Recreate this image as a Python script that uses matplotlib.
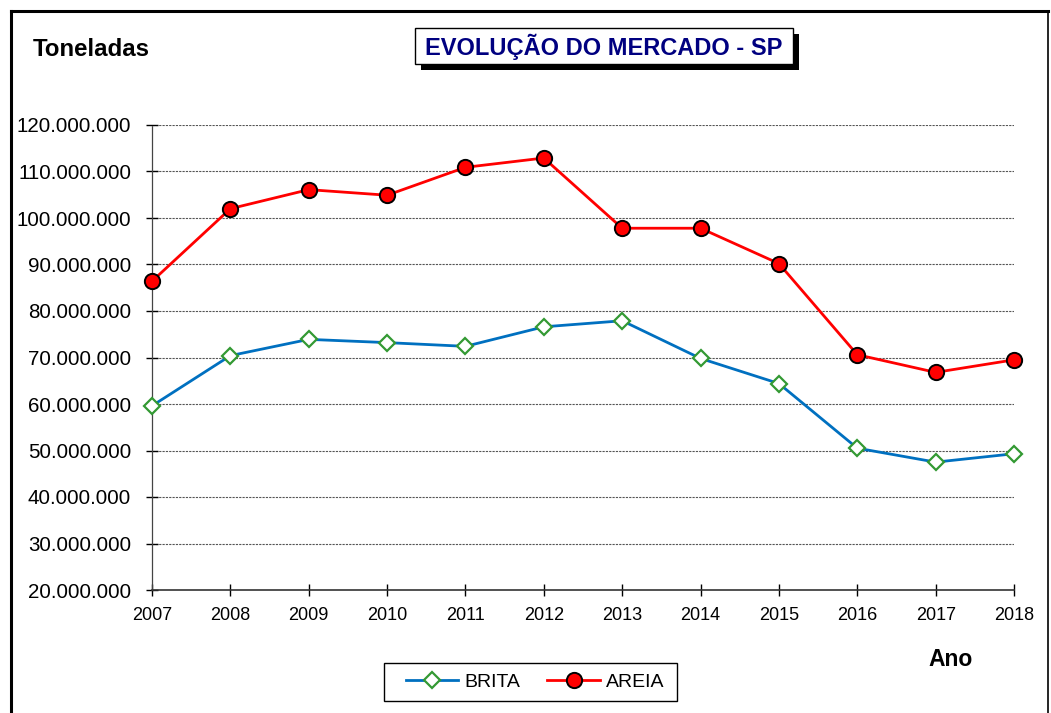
import matplotlib
matplotlib.use("Agg")
import matplotlib.pyplot as plt
from matplotlib.patches import Rectangle
from matplotlib.lines import Line2D
from matplotlib.ticker import FuncFormatter

plt.rcParams['font.family'] = ['Liberation Sans', 'DejaVu Sans']

anos = [2007, 2008, 2009, 2010, 2011, 2012, 2013, 2014, 2015, 2016, 2017, 2018]
brita = [59.6e6, 70.4e6, 73.9e6, 73.2e6, 72.4e6, 76.6e6, 77.9e6, 69.8e6, 64.4e6, 50.5e6, 47.5e6, 49.3e6]
areia = [86.4e6, 102.0e6, 106.1e6, 104.9e6, 110.9e6, 112.9e6, 97.8e6, 97.8e6, 90.2e6, 70.6e6, 66.8e6, 69.5e6]
y_ticks = [20e6, 30e6, 40e6, 50e6, 60e6, 70e6, 80e6, 90e6, 100e6, 110e6, 120e6]

W, H = 1051, 713
fig = plt.figure(figsize=(W / 100, H / 100), dpi=100)

def fx(px):
    return px / W

def fy(py):
    return 1 - py / H

# outer frame
fig.add_artist(Line2D([fx(11), fx(11)], [fy(11), fy(713)], color='black', lw=2.2, transform=fig.transFigure))
fig.add_artist(Line2D([fx(11), fx(1048)], [fy(11), fy(11)], color='black', lw=2.2, transform=fig.transFigure))
fig.add_artist(Line2D([fx(1048), fx(1048)], [fy(11), fy(713)], color='black', lw=1.2, transform=fig.transFigure))

ax = fig.add_axes([fx(152), fy(590), fx(1014) - fx(152), fy(125) - fy(590)])

ax.plot(anos, brita, color='#0070C0', lw=2, marker='D', ms=8, mfc='white',
        mec='#339933', mew=1.6, label='BRITA', zorder=3, clip_on=False)
ax.plot(anos, areia, color='#FF0000', lw=2, marker='o', ms=11, mfc='#FF0000',
        mec='black', mew=1.4, label='AREIA', zorder=4, clip_on=False)

ax.set_xlim(anos[0], anos[-1])
ax.set_ylim(y_ticks[0], y_ticks[-1])
ax.set_xticks(anos)
ax.set_yticks(y_ticks)
ax.yaxis.set_major_formatter(FuncFormatter(lambda v, p: f"{int(v):,}".replace(",", ".")))

for y in y_ticks[1:]:
    ax.axhline(y, color='#555555', lw=0.8, ls=(0, (2, 1)), zorder=1)

ax.spines['top'].set_visible(False)
ax.spines['right'].set_visible(False)
ax.spines['left'].set_linestyle((0, (2, 1)))
ax.spines['left'].set_color('#444444')
ax.spines['left'].set_linewidth(0.9)
ax.spines['bottom'].set_color('#333333')
ax.spines['bottom'].set_linewidth(1.2)

ax.tick_params(axis='x', direction='inout', length=8, width=1, labelsize=13, pad=8)
ax.tick_params(axis='y', direction='inout', length=8, width=1, labelsize=14.8, pad=11)

# title box with shadow
fig.add_artist(Rectangle((fx(421), fy(70)), fx(378), fy(34) - fy(70), transform=fig.transFigure,
                         facecolor='black', edgecolor='none', zorder=5))
fig.add_artist(Rectangle((fx(415), fy(64)), fx(378), fy(28) - fy(64), transform=fig.transFigure,
                         facecolor='white', edgecolor='black', lw=1, zorder=6))
fig.text(fx(604), fy(46.5), 'EVOLUÇÃO DO MERCADO - SP', ha='center', va='center',
         fontsize=17, fontweight='bold', color='#000080', zorder=7)

fig.text(fx(33), fy(50), 'Toneladas', ha='left', va='center', fontsize=17.3, fontweight='bold')
fig.text(fx(951), fy(659), 'Ano', ha='center', va='center', fontsize=16.5, fontweight='bold')

# legend box
fig.add_artist(Rectangle((fx(384), fy(701)), fx(293), fy(663) - fy(701), transform=fig.transFigure,
                         facecolor='white', edgecolor='black', lw=1, zorder=5))
fig.legend(loc='center', bbox_to_anchor=(fx(535), fy(682)), ncol=2, fontsize=14,
           frameon=False, handlelength=2.7, handletextpad=0.3, columnspacing=1.4,
           borderpad=0.3, borderaxespad=0).set_zorder(6)

fig.savefig('out.png', dpi=100)
